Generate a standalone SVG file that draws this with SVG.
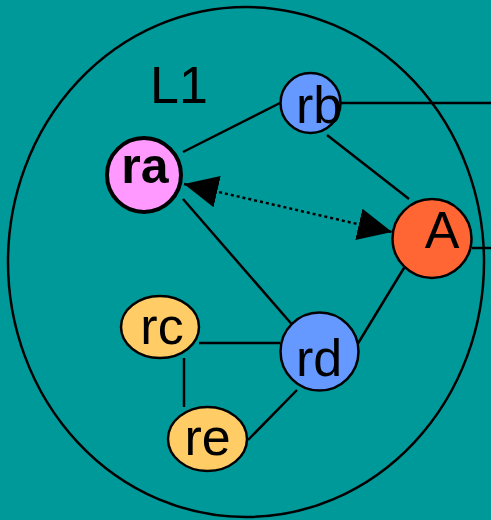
<svg xmlns="http://www.w3.org/2000/svg" width="491" height="520" viewBox="0 0 491 520">
<style>
.edge{stroke:#000;stroke-width:2.5;fill:none}
.node{stroke:#000;stroke-width:2.5}
.lbl{font-family:"Liberation Sans",Arial,sans-serif;font-size:52px;fill:#000;text-anchor:middle}
.blue{fill:#6699ff}
.gold{fill:#ffcc66}
</style>
<defs>
<marker id="ah" viewBox="0 0 34 32" refX="34" refY="16" markerWidth="34" markerHeight="32" markerUnits="userSpaceOnUse" orient="auto-start-reverse">
<path d="M0,0 L34,16 L0,32 z" fill="#000"/>
</marker>
</defs>
<rect x="0" y="0" width="491" height="520" fill="#009999"/>
<g id="L1">
<ellipse cx="246" cy="262" rx="238" ry="255" fill="none" stroke="#000" stroke-width="2.5"/>
<text class="lbl" x="179" y="103">L1</text>
</g>
<g id="connectors">
<line class="edge" x1="183" y1="152" x2="280" y2="103"/>
<line class="edge" x1="327" y1="135" x2="409" y2="199"/>
<line class="edge" x1="340" y1="103" x2="491" y2="103"/>
<line class="edge" x1="472" y1="248" x2="491" y2="248"/>
<line class="edge" x1="407" y1="263" x2="357" y2="345"/>
<line class="edge" x1="183" y1="199" x2="295" y2="328"/>
<line class="edge" x1="199" y1="343" x2="280" y2="343"/>
<line class="edge" x1="184" y1="358" x2="184" y2="407"/>
<line class="edge" x1="248" y1="440" x2="297" y2="390"/>
<line x1="184" y1="184" x2="392" y2="232" stroke="#000" stroke-width="2.5" stroke-dasharray="3 3" marker-start="url(#ah)" marker-end="url(#ah)"/>
</g>
<g id="rb">
<circle class="node blue" cx="310.5" cy="103" r="30"/>
<text class="lbl" x="319" y="123">rb</text>
</g>
<g id="ra">
<circle cx="144" cy="175" r="37" fill="#ff99ff" stroke="#000" stroke-width="4"/>
<text class="lbl" x="145" y="183" font-weight="bold" style="font-size:50px">ra</text>
</g>
<g id="A">
<circle class="node" cx="432" cy="238.5" r="39.5" fill="#ff6633"/>
<text class="lbl" x="442" y="248">A</text>
</g>
<g id="rd">
<circle class="node blue" cx="319.5" cy="351.5" r="39"/>
<text class="lbl" x="319" y="376">rd</text>
</g>
<g id="rc">
<ellipse class="node gold" cx="160" cy="327" rx="39" ry="31"/>
<text class="lbl" x="162" y="344">rc</text>
</g>
<g id="re">
<ellipse class="node gold" cx="207.5" cy="439" rx="39.5" ry="32"/>
<text class="lbl" x="207.5" y="455">re</text>
</g>
</svg>
